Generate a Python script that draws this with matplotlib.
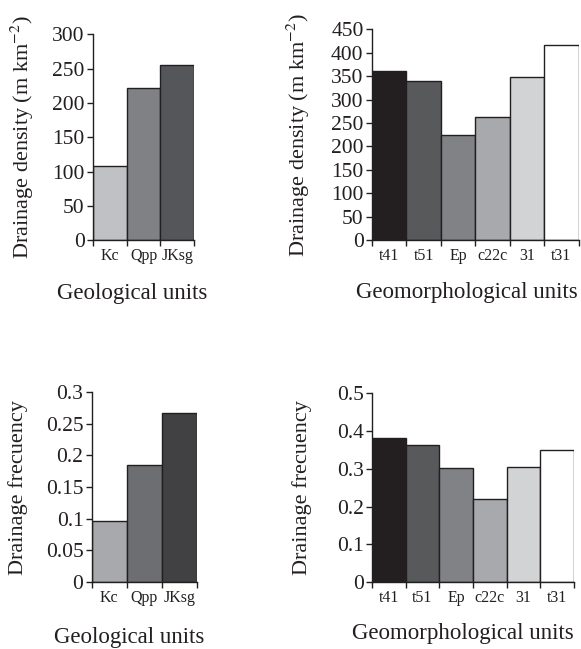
import numpy as np
import matplotlib
matplotlib.use("Agg")
from matplotlib import pyplot as plt

plt.rcParams['font.family'] = ['Liberation Serif', 'DejaVu Serif']
plt.rcParams['axes.linewidth'] = 1.0
plt.rcParams['mathtext.fontset'] = 'stix'

# geological units
geo_units = ["Kc", "Qpp", "JKsg"]
geo_density = [108, 222, 256]
geo_freq = [0.096, 0.185, 0.267]

# geomorphological units
morph_units = ["t41", "t51", "Ep", "c22c", "31", "t31"]
morph_density = [360, 340, 225, 262, 349, 417]
morph_freq = [0.381, 0.362, 0.302, 0.220, 0.305, 0.351]

geo_colors_top = ["#c0c1c4", "#808184", "#555659"]
geo_colors_bot = ["#a7a9ac", "#6d6e71", "#414042"]
morph_colors = ["#231f20", "#58595b", "#808285", "#a7a9ac", "#d1d3d4", "#ffffff"]

ink = "#231f20"

fig = plt.figure(figsize=(5.81, 6.49), dpi=100)


def panel(rect, cats, vals, colors, ymax, ystep, yticklabels, ylabel, xlabel,
          ylab_x, xlab_xy):
    ax = fig.add_axes(rect)
    x = np.arange(len(cats))
    ax.bar(x, vals, width=1.0, color=colors, edgecolor=ink, linewidth=1.0,
           align="center", zorder=2)
    ax.set_xlim(-0.5, len(cats) - 0.5)
    ax.set_ylim(0, ymax)
    ax.set_yticks(np.arange(0, ymax + ystep / 2, ystep))
    ax.set_yticklabels(yticklabels, fontsize=15.5, color=ink)
    ax.set_xticks(x)
    ax.set_xticklabels(cats, fontsize=11.5, color=ink)
    ax.set_xticks(np.arange(len(cats) + 1) - 0.5, minor=True)
    ax.tick_params(axis="x", which="major", length=0, pad=6)
    ax.tick_params(axis="x", which="minor", length=4, width=1.0, color=ink,
                   direction="out")
    ax.tick_params(axis="y", length=4, width=1.0, color=ink, direction="out",
                   pad=2)
    for s in ["top", "right"]:
        ax.spines[s].set_visible(False)
    for s in ["left", "bottom"]:
        ax.spines[s].set_color(ink)
    ax.set_ylabel(ylabel, fontsize=16, color=ink)
    ax.yaxis.set_label_coords(ylab_x, 0.5)
    ax.set_xlabel(xlabel, fontsize=16.5, color=ink)
    ax.xaxis.set_label_coords(*xlab_xy)
    ax.xaxis.label.set_verticalalignment("center")
    ax.yaxis.label.set_verticalalignment("center")
    return ax


dens_label = "Drainage density (m km$^{-2}$)"
freq_label = "Drainage frecuency"

panel([0.160, 0.630, 0.174, 0.317], geo_units, geo_density, geo_colors_top,
      300, 50, ["0", "50", "100", "150", "200", "250", "300"],
      dens_label, "Geological units", -0.70, (0.386, -0.257))

panel([0.640, 0.630, 0.356, 0.325], morph_units, morph_density, morph_colors,
      450, 50, [str(v) for v in range(0, 451, 50)],
      dens_label, "Geomorphological units", -0.357, (0.46, -0.246))

panel([0.158, 0.103, 0.181, 0.293], geo_units, geo_freq, geo_colors_bot,
      0.3, 0.05, ["0", "0.05", "0.1", "0.15", "0.2", "0.25", "0.3"],
      freq_label, "Geological units", -0.70, (0.36, -0.29))

panel([0.640, 0.103, 0.348, 0.291], morph_units, morph_freq, morph_colors,
      0.5, 0.1, ["0", "0.1", "0.2", "0.3", "0.4", "0.5"],
      freq_label, "Geomorphological units", -0.347, (0.45, -0.27))

fig.savefig("out.png", dpi=100)
